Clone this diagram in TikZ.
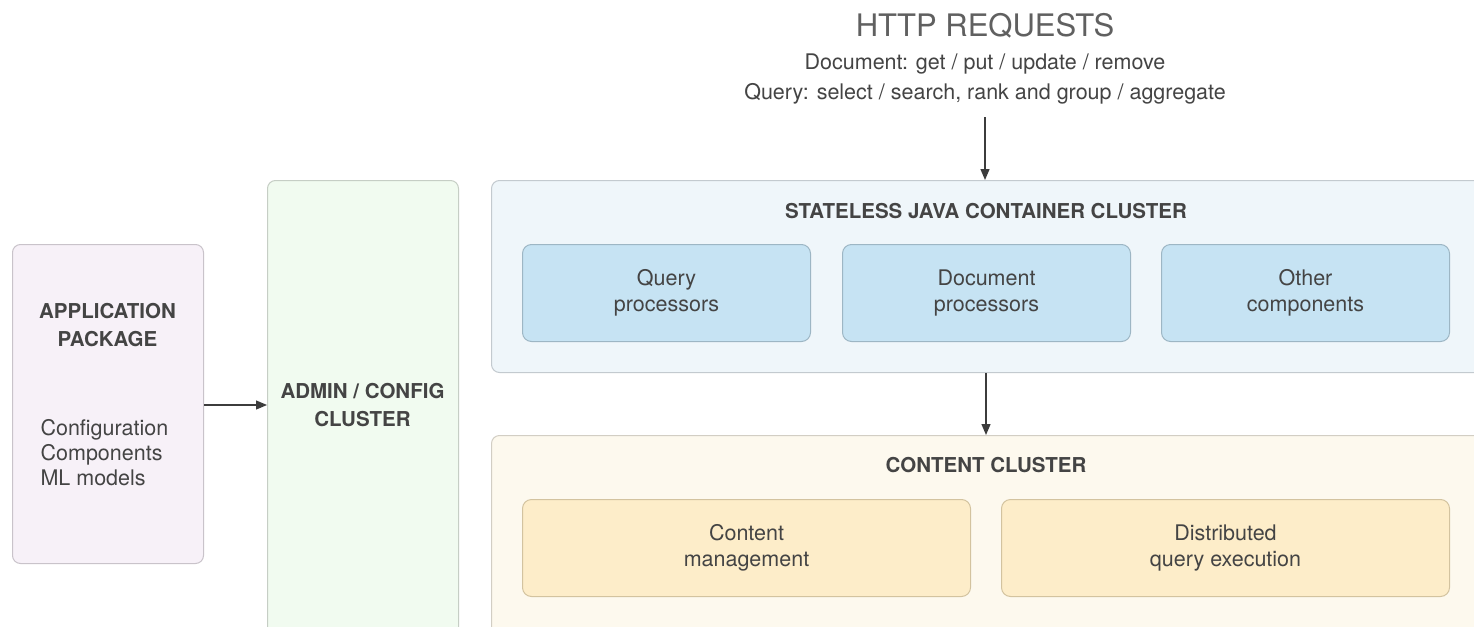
\documentclass[tikz,border=0pt]{standalone}
\usepackage{fontspec}
\setmainfont{TeX Gyre Heros}
\usetikzlibrary{arrows.meta}
\definecolor{txt}{HTML}{444444}
\definecolor{appfill}{HTML}{F7F1F8}
\definecolor{appdraw}{HTML}{C9C3CA}
\definecolor{admfill}{HTML}{F1FBF0}
\definecolor{admdraw}{HTML}{C6CEC5}
\definecolor{slfill}{HTML}{EFF6FA}
\definecolor{sldraw}{HTML}{C3CACF}
\definecolor{bluefill}{HTML}{C6E3F3}
\definecolor{bluedraw}{HTML}{9DB6C4}
\definecolor{ccfill}{HTML}{FDF9EE}
\definecolor{ccdraw}{HTML}{D2CEC4}
\definecolor{yelfill}{HTML}{FDEDC9}
\definecolor{yeldraw}{HTML}{D3C39F}
\definecolor{arr}{HTML}{3C3C3C}
\tikzset{
  panel/.style={draw, line width=1pt, rounded corners=8pt, anchor=north west, inner sep=0pt},
  inner/.style={draw=bluedraw, fill=bluefill, line width=1pt, rounded corners=9pt, anchor=north west, inner sep=0pt, minimum width=288pt, minimum height=97pt},
  yinner/.style={draw=yeldraw, fill=yelfill, line width=1pt, rounded corners=9pt, anchor=north west, inner sep=0pt, minimum width=448pt, minimum height=97pt},
  lbl/.style={text=txt, font=\fontsize{21.5}{26}\selectfont, align=center},
  ttl/.style={text=txt, font=\fontsize{20.5}{28}\selectfont\bfseries, align=center},
  conn/.style={draw=arr, line width=1.2pt, -{Triangle[length=11pt,width=9pt]}}
}
\begin{document}
\begin{tikzpicture}[x=1pt,y=-1pt]
\useasboundingbox (0,0) rectangle (1474,626);
\clip (0,0) rectangle (1474,626);
\fill[white] (0,0) rectangle (1474,626);
% panels
\node[panel, draw=appdraw, fill=appfill, minimum width=191pt, minimum height=319pt] (app) at (12,244) {};
\node[panel, draw=admdraw, fill=admfill, minimum width=191pt, minimum height=460pt] (adm) at (267,180) {};
\node[panel, draw=sldraw, fill=slfill, minimum width=1010pt, minimum height=192pt] (sl) at (491,180) {};
\node[panel, draw=ccdraw, fill=ccfill, minimum width=1010pt, minimum height=210pt] (cc) at (491,435) {};
% inner boxes
\node[inner] (qp) at (522,244) {};
\node[inner] (dp) at (842,244) {};
\node[inner] (oc) at (1161,244) {};
\node[yinner] (cm) at (522,499) {};
\node[yinner] (dq) at (1001,499) {};
\node[lbl] at (qp.center) {Query\\processors};
\node[lbl] at (dp.center) {Document\\processors};
\node[lbl] at (oc.center) {Other\\components};
\node[lbl] at (cm.center) {Content\\management};
\node[lbl] at (dq.center) {Distributed\\query execution};
% titles
\node[ttl] (slt) at (986,211) {STATELESS JAVA CONTAINER CLUSTER};
\node[ttl] (cct) at (986,465) {CONTENT CLUSTER};
\node[ttl] (appt) at (107.5,325) {APPLICATION\\PACKAGE};
\node[ttl] (admt) at (362.5,405) {ADMIN / CONFIG\\CLUSTER};
\node[text=txt, font=\fontsize{21.5}{25}\selectfont, align=left, anchor=west] (appl) at (37,453) {Configuration\\Components\\ML models};
% HTTP
\node[text=txt!85, font=\fontsize{31}{32}\selectfont] (http) at (985,26) {HTTP REQUESTS};
\node[text=txt, font=\fontsize{21.5}{30}\selectfont, align=center] (ops) at (985,79) {Document: get / put / update / remove\\Query: select / search, rank and group / aggregate};
\coordinate (httpend) at (985,117);
% connectors
\draw[conn] (httpend) -- (985,180);
\draw[conn] (sl.south -| 986,0) -- (cc.north -| 986,0);
\draw[conn] (app.east |- 0,405) -- (adm.west |- 0,405);
\end{tikzpicture}
\end{document}
